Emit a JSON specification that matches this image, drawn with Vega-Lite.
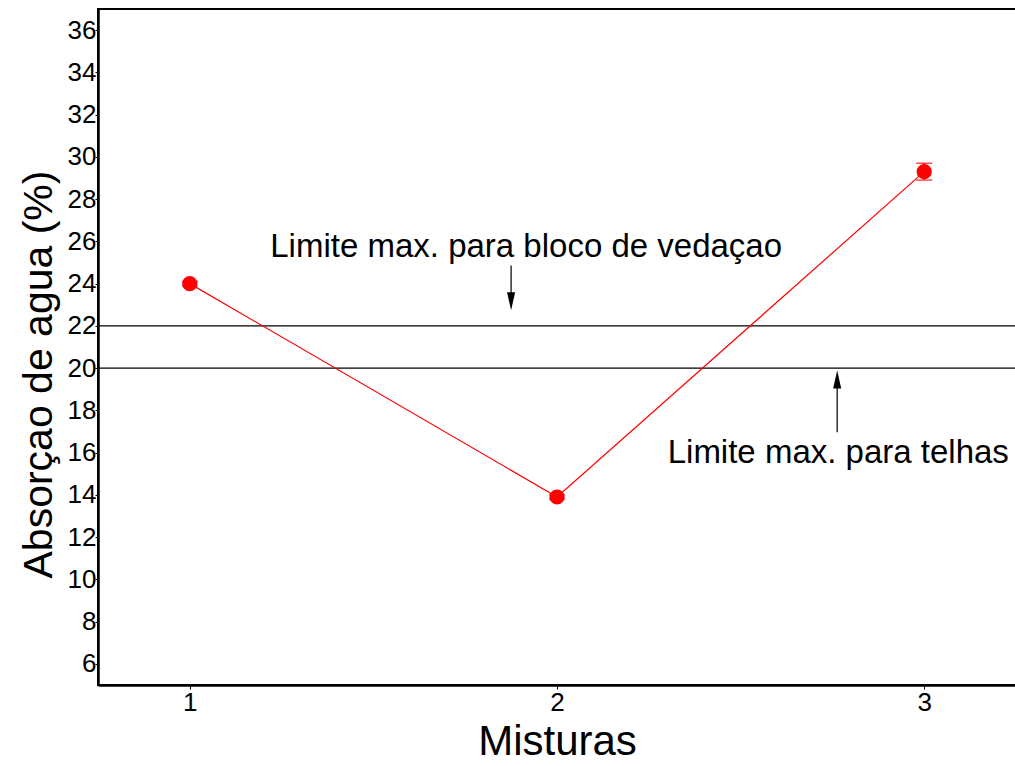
{
  "$schema": "https://vega.github.io/schema/vega-lite/v6.json",
  "autosize": "none",
  "width": 918,
  "height": 676,
  "padding": {"left": 98, "top": 9, "right": 0, "bottom": 81},
  "config": {
    "font": "Liberation Sans",
    "view": {"stroke": "black", "strokeWidth": 2},
    "axis": {"grid": false, "domainColor": "black", "domainWidth": 2.5, "tickColor": "black", "labelColor": "black", "titleColor": "black", "titleFontWeight": "normal", "labelFont": "Liberation Sans", "titleFont": "Liberation Sans"}
  },
  "datasets": {
    "series": [
      {"mistura": 1, "absorcao": 24.0, "lo": 23.9, "hi": 24.1},
      {"mistura": 2, "absorcao": 13.9, "lo": 13.8, "hi": 14.0},
      {"mistura": 3, "absorcao": 29.3, "lo": 28.9, "hi": 29.7}
    ],
    "limits": [{"limite": 20}, {"limite": 22}],
    "labels": [
      {"x": 1.916, "y": 25.75, "text": "Limite max. para bloco de vedaçao"},
      {"x": 2.766, "y": 16.0, "text": "Limite max. para telhas"}
    ],
    "arrows": [
      {"x": 1.875, "y1": 24.86, "y2": 23.44, "hy": 23.16, "dir": "down"},
      {"x": 2.763, "y1": 16.96, "y2": 19.18, "hy": 19.46, "dir": "up"}
    ]
  },
  "layer": [
    {
      "data": {"name": "limits"},
      "mark": {"type": "rule", "color": "black", "strokeWidth": 1.2},
      "encoding": {
        "y": {"field": "limite", "type": "quantitative", "scale": {"domain": [5, 37], "nice": false, "zero": false}}
      }
    },
    {
      "data": {"name": "series"},
      "mark": {"type": "line", "color": "#ff0000", "strokeWidth": 1.2},
      "encoding": {
        "x": {"field": "mistura", "type": "quantitative", "scale": {"domain": [0.75, 3.25], "nice": false, "zero": false},
          "axis": {"values": [1, 2, 3], "format": "d", "title": "Misturas", "titleFontSize": 42, "labelFontSize": 26, "tickSize": 4, "labelPadding": 0, "titlePadding": 6}},
        "y": {"field": "absorcao", "type": "quantitative", "scale": {"domain": [5, 37], "nice": false, "zero": false},
          "axis": {"values": [6,7,8,9,10,11,12,13,14,15,16,17,18,19,20,21,22,23,24,25,26,27,28,29,30,31,32,33,34,35,36],
            "labelExpr": "datum.value % 2 == 0 ? datum.label : ''",
            "title": "Absorçao de agua (%)", "titleFontSize": 41, "titleY": 365, "labelFontSize": 26, "tickSize": 3, "labelPadding": -1, "titlePadding": 7}}
      }
    },
    {
      "data": {"name": "series"},
      "mark": {"type": "rule", "color": "#ff0000", "strokeWidth": 1.5},
      "encoding": {
        "x": {"field": "mistura", "type": "quantitative"},
        "y": {"field": "lo", "type": "quantitative"},
        "y2": {"field": "hi"}
      }
    },
    {
      "data": {"name": "series"},
      "mark": {"type": "tick", "orient": "horizontal", "color": "#ff0000", "size": 16, "thickness": 1.5},
      "encoding": {
        "x": {"field": "mistura", "type": "quantitative"},
        "y": {"field": "hi", "type": "quantitative"}
      }
    },
    {
      "data": {"name": "series"},
      "mark": {"type": "tick", "orient": "horizontal", "color": "#ff0000", "size": 16, "thickness": 1.5},
      "encoding": {
        "x": {"field": "mistura", "type": "quantitative"},
        "y": {"field": "lo", "type": "quantitative"}
      }
    },
    {
      "data": {"name": "series"},
      "mark": {"type": "circle", "color": "#ff0000", "opacity": 1, "size": 230},
      "encoding": {
        "x": {"field": "mistura", "type": "quantitative"},
        "y": {"field": "absorcao", "type": "quantitative"}
      }
    },
    {
      "data": {"name": "labels"},
      "mark": {"type": "text", "fontSize": 33, "color": "black", "align": "center", "baseline": "middle"},
      "encoding": {
        "x": {"field": "x", "type": "quantitative"},
        "y": {"field": "y", "type": "quantitative"},
        "text": {"field": "text"}
      }
    },
    {
      "data": {"name": "arrows"},
      "mark": {"type": "rule", "color": "black", "strokeWidth": 1.2},
      "encoding": {
        "x": {"field": "x", "type": "quantitative"},
        "y": {"field": "y1", "type": "quantitative"},
        "y2": {"field": "y2"}
      }
    },
    {
      "data": {"name": "arrows"},
      "mark": {"type": "point", "filled": true, "color": "black", "opacity": 1, "size": 324},
      "encoding": {
        "x": {"field": "x", "type": "quantitative"},
        "y": {"field": "hy", "type": "quantitative"},
        "shape": {"field": "dir", "type": "nominal", "scale": {"domain": ["down", "up"], "range": ["M-0.45,-1L0.45,-1L0,1Z", "M-0.45,1L0.45,1L0,-1Z"]}, "legend": null}
      }
    }
  ]
}
